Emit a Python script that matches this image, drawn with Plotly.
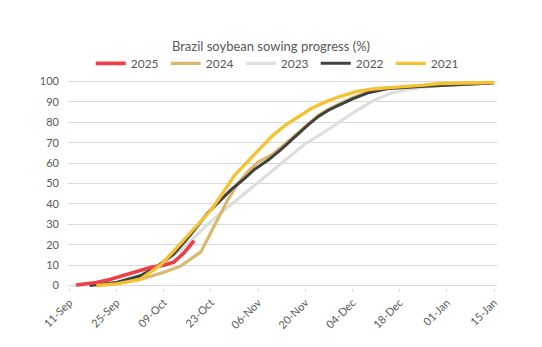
import plotly.graph_objects as go
from datetime import date

# Sowing progress (% of area) by season, keyed by day-month of the season calendar
dates_2025 = ["09-13", "09-19", "09-23", "09-27", "10-01", "10-05", "10-09", "10-12", "10-15", "10-18"]
pct_2025 = [0.3, 1.5, 3.0, 5.0, 7.2, 8.8, 10.0, 11.5, 16.0, 22.0]

dates_2024 = ["09-19", "09-25", "10-02", "10-09", "10-14", "10-20", "10-25", "10-28", "10-31", "11-03",
              "11-06", "11-10", "11-13", "11-17", "11-21", "11-24", "11-27", "11-30", "12-04", "12-09",
              "12-15", "12-24", "01-01", "01-08", "01-15"]
pct_2024 = [0.0, 1.0, 3.0, 6.5, 9.5, 16.5, 32.5, 42.0, 50.0, 56.0,
            60.5, 64.0, 68.0, 73.5, 79.5, 83.5, 86.5, 89.0, 92.0, 95.0,
            96.8, 97.6, 98.3, 98.9, 99.4]

dates_2023 = ["09-12", "09-18", "09-25", "10-02", "10-09", "10-14", "10-18", "10-22", "10-27", "10-31",
              "11-04", "11-08", "11-12", "11-16", "11-20", "11-25", "11-30", "12-05", "12-10", "12-15",
              "12-20", "12-25", "01-01", "01-08", "01-15"]
pct_2023 = [0.0, 0.5, 1.5, 4.5, 11.0, 17.5, 23.5, 30.0, 37.0, 42.5,
            47.5, 53.0, 59.0, 64.0, 69.5, 74.5, 80.0, 85.5, 90.5, 94.0,
            96.0, 97.2, 98.3, 99.0, 99.5]

dates_2022 = ["09-17", "09-25", "10-02", "10-07", "10-12", "10-17", "10-22", "10-26", "10-29", "11-02",
              "11-05", "11-09", "11-13", "11-17", "11-21", "11-24", "11-27", "11-30", "12-04", "12-09",
              "12-15", "12-24", "01-01", "01-08", "01-15"]
pct_2022 = [0.0, 1.5, 4.8, 9.3, 15.5, 25.0, 35.5, 42.0, 47.0, 52.5,
            57.0, 61.5, 67.0, 73.0, 79.0, 83.0, 86.0, 88.4, 91.5, 94.6,
            96.6, 97.5, 98.2, 98.8, 99.3]

dates_2021 = ["09-19", "09-25", "10-02", "10-08", "10-12", "10-18", "10-23", "10-26", "10-30", "11-03",
              "11-06", "11-10", "11-14", "11-18", "11-22", "11-26", "11-30", "12-05", "12-10", "12-15",
              "12-20", "12-25", "12-30", "01-04", "01-09", "01-15"]
pct_2021 = [0.0, 0.8, 3.0, 10.0, 17.0, 28.0, 37.0, 44.0, 54.0, 61.0,
            66.0, 73.0, 78.5, 83.0, 87.0, 90.0, 92.5, 95.0, 96.3, 97.0,
            97.5, 98.2, 99.0, 99.2, 99.3, 99.5]

tick_dates = ["09-11", "09-25", "10-09", "10-23", "11-06", "11-20", "12-04", "12-18", "01-01", "01-15"]
tick_labels = ["11-Sep", "25-Sep", "09-Oct", "23-Oct", "06-Nov", "20-Nov", "04-Dec", "18-Dec", "01-Jan", "15-Jan"]
y_ticks = [0, 10, 20, 30, 40, 50, 60, 70, 80, 90, 100]


def season_day(md):
    """Map a 'MM-DD' string onto a common Sep-to-Jan season calendar."""
    m, d = (int(p) for p in md.split("-"))
    return date(2025 if m >= 9 else 2026, m, d)


series = [
    # name, dates, values, colour, width, legend rank
    ("2023", dates_2023, pct_2023, "#DEDEDE", 3.2, 3),
    ("2024", dates_2024, pct_2024, "#D8B96C", 3.2, 2),
    ("2022", dates_2022, pct_2022, "#404040", 3.0, 4),
    ("2025", dates_2025, pct_2025, "#EC3F48", 3.6, 1),
    ("2021", dates_2021, pct_2021, "#F4C232", 3.4, 5),
]

fig = go.Figure()
for name, ds, vals, colour, width, rank in series:
    fig.add_trace(go.Scatter(
        x=[season_day(s) for s in ds], y=vals, name=name, mode="lines",
        line=dict(color=colour, width=width), legendrank=rank,
    ))

font_family = "Lato, 'Open Sans', sans-serif"
text_grey = "#595959"
grid_grey = "#D9D9D9"

fig.update_layout(
    width=542, height=347,
    margin=dict(l=68, r=45, t=79, b=59),
    paper_bgcolor="white", plot_bgcolor="white",
    font=dict(family=font_family, color=text_grey, size=11),
    title=dict(text="Brazil soybean sowing progress (%)", x=0.5, xanchor="center",
               y=1 - 46 / 347, yanchor="middle", yref="container",
               font=dict(size=13, color=text_grey, family=font_family)),
    legend=dict(orientation="h", x=0.49, xanchor="center", y=1.075, yanchor="middle",
                entrywidth=30, entrywidthmode="pixels", font=dict(size=12, color=text_grey),
                bgcolor="rgba(0,0,0,0)", itemclick=False),
    showlegend=True,
)

fig.update_xaxes(
    type="date",
    range=[date(2025, 9, 10).isoformat() + " 14:00", date(2026, 1, 15).isoformat() + " 21:00"],
    tickvals=[season_day(s) for s in tick_dates], ticktext=tick_labels,
    tickangle=-45, tickfont=dict(size=11, color=text_grey),
    showgrid=False, showline=False, zeroline=False,
    ticks="outside", ticklen=3, tickcolor=grid_grey, tickwidth=1,
)
fig.update_yaxes(
    range=[-1.2, 101.2], tickvals=y_ticks,
    tickfont=dict(size=11, color=text_grey),
    showgrid=True, gridcolor=grid_grey, gridwidth=1,
    zeroline=True, zerolinecolor=grid_grey, zerolinewidth=1,
    showline=False, ticks="", ticklabelstandoff=8,
)

fig.write_html("out.html")
